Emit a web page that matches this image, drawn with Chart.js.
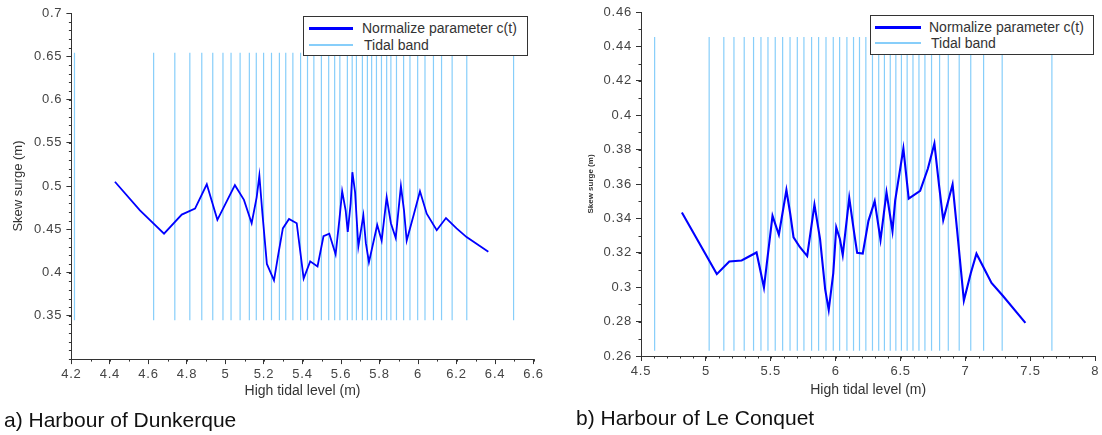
<!DOCTYPE html>
<html><head><meta charset="utf-8">
<script src="https://cdn.jsdelivr.net/npm/chart.js@4.4.1/dist/chart.umd.min.js"></script>
<style>
html,body{margin:0;padding:0;background:#fff;width:1102px;height:435px;overflow:hidden;font-family:"Liberation Sans",Arial,sans-serif;}
.wrap{position:absolute;top:0;width:551px;height:435px;}
canvas{display:block}
.legend{position:absolute;background:#fff;border:1px solid #333;box-sizing:border-box;}
.sw{position:absolute;height:0;}
.lt{position:absolute;font-size:14px;color:#333;white-space:nowrap;line-height:16px;}
.cap{position:absolute;font-size:21px;color:#111;white-space:nowrap;line-height:21px;}
</style></head>
<body>
<div class="wrap" style="left:0"><canvas id="c1" width="551" height="435"></canvas></div>
<div class="wrap" style="left:551px"><canvas id="c2" width="551" height="435"></canvas></div>

<div class="legend" style="left:303px;top:16px;width:225px;height:40px;"></div>
<div class="sw" style="left:309px;top:27px;width:44px;border-top:3px solid #0000ff;"></div>
<div class="lt" style="left:362px;top:20px;">Normalize parameter c(t)</div>
<div class="sw" style="left:309px;top:44px;width:44px;border-top:2px solid #87cefa;"></div>
<div class="lt" style="left:364px;top:37px;">Tidal band</div>

<div class="legend" style="left:870px;top:15px;width:224px;height:40px;"></div>
<div class="sw" style="left:875px;top:26px;width:46px;border-top:3px solid #0000ff;"></div>
<div class="lt" style="left:929px;top:19px;">Normalize parameter c(t)</div>
<div class="sw" style="left:875px;top:42px;width:46px;border-top:2px solid #87cefa;"></div>
<div class="lt" style="left:931px;top:35px;">Tidal band</div>

<div class="cap" style="left:4px;top:409px;">a) Harbour of Dunkerque</div>
<div class="cap" style="left:576px;top:407px;">b) Harbour of Le Conquet</div>

<script>
// ---------- Data: Harbour of Dunkerque ----------
const dunkX = [4.426,4.556,4.681,4.773,4.842,4.903,4.958,5.049,5.096,5.136,5.162,5.176,5.192,5.215,5.252,5.275,5.298,5.330,5.370,5.406,5.440,5.478,5.509,5.539,5.572,5.591,5.606,5.624,5.635,5.650,5.659,5.673,5.690,5.716,5.729,5.745,5.788,5.811,5.837,5.859,5.884,5.911,5.927,5.941,5.979,6.010,6.045,6.097,6.145,6.200,6.252,6.365];
const dunkY = [0.505,0.472,0.445,0.467,0.474,0.502,0.461,0.501,0.484,0.457,0.487,0.512,0.468,0.410,0.391,0.422,0.451,0.462,0.457,0.393,0.413,0.407,0.442,0.445,0.421,0.460,0.494,0.472,0.447,0.480,0.516,0.493,0.430,0.466,0.434,0.412,0.455,0.437,0.487,0.457,0.440,0.500,0.472,0.437,0.468,0.494,0.468,0.449,0.463,0.451,0.441,0.424];
const dunkBand = [4.216,4.627,4.737,4.815,4.877,4.934,4.987,5.029,5.076,5.124,5.160,5.198,5.239,5.280,5.313,5.350,5.390,5.426,5.459,5.498,5.536,5.567,5.594,5.633,5.658,5.680,5.711,5.737,5.759,5.784,5.810,5.837,5.859,5.888,5.925,5.958,5.998,6.036,6.080,6.122,6.177,6.253,6.496];
const dunkBandLow = 0.345, dunkBandHigh = 0.654;
const dunkXTicks = [4.2,4.4,4.6,4.8,5,5.2,5.4,5.6,5.8,6,6.2,6.4,6.6];
const dunkYTicks = [0.35,0.4,0.45,0.5,0.55,0.6,0.65,0.7];

// ---------- Data: Harbour of Le Conquet ----------
const conqX = [4.815,5.084,5.180,5.275,5.390,5.447,5.513,5.562,5.620,5.650,5.675,5.723,5.780,5.836,5.879,5.919,5.946,5.981,6.004,6.032,6.054,6.104,6.143,6.165,6.208,6.252,6.300,6.345,6.391,6.437,6.458,6.521,6.562,6.650,6.710,6.760,6.797,6.828,6.900,6.935,6.987,7.040,7.084,7.200,7.287,7.461];
const conqY = [0.3434,0.3076,0.3150,0.3155,0.3202,0.2998,0.3415,0.3305,0.3565,0.3424,0.3290,0.3234,0.3181,0.3480,0.3281,0.2986,0.2868,0.3081,0.3347,0.3280,0.3187,0.3520,0.3310,0.3200,0.3195,0.3386,0.3500,0.3275,0.3552,0.3327,0.3505,0.3806,0.3515,0.3560,0.3690,0.3835,0.3585,0.3390,0.3598,0.3330,0.2922,0.3081,0.3195,0.3025,0.2950,0.2793];
const conqBand = [4.605,5.025,5.138,5.216,5.295,5.367,5.424,5.478,5.534,5.591,5.648,5.704,5.755,5.814,5.868,5.925,5.981,6.030,6.086,6.137,6.183,6.232,6.283,6.331,6.375,6.420,6.463,6.506,6.550,6.595,6.641,6.687,6.738,6.800,6.867,6.951,7.040,7.139,7.282,7.665];
const conqBandLow = 0.263, conqBandHigh = 0.4455;
const conqXTicks = [4.5,5,5.5,6,6.5,7,7.5,8];
const conqYTicks = [0.26,0.28,0.3,0.32,0.34,0.36,0.38,0.4,0.42,0.44,0.46];

const FONT = '"Liberation Sans", Arial, sans-serif';

function pts(xs, ys){ return xs.map((x,i)=>({x:x, y:ys[i]})); }
function band(xs, lo, hi){
  const out=[];
  xs.forEach(x=>{ out.push({x:x,y:lo}); out.push({x:x,y:hi}); out.push({x:x,y:null}); });
  return out;
}
function fmt(v){ return String(Math.round(v*1000)/1000); }

// minor ticks + slightly spaced tick labels (Scilab look)
const minorTicks = {
  id:'minorTicks',
  afterLayout(chart){
    Object.values(chart.scales).forEach(s=>{
      if (s._spaced) return;
      const orig = s.drawLabels.bind(s);
      s.drawLabels = function(area){
        const ctx = s.ctx; ctx.save();
        try { ctx.letterSpacing = '0.8px'; } catch(e){}
        orig(area); ctx.restore();
      };
      s._spaced = true;
    });
  },
  afterDraw(chart, args, o){
    const {ctx, chartArea:a} = chart;
    const x = chart.scales.x, y = chart.scales.y;
    ctx.save();
    ctx.strokeStyle = '#333'; ctx.lineWidth = 1;
    ctx.beginPath();
    let n = Math.round((x.max-x.min)/o.xStep);
    for(let i=0;i<=n;i++){
      const px = Math.round(x.getPixelForValue(x.min + i*o.xStep)) + 0.5;
      ctx.moveTo(px, a.bottom); ctx.lineTo(px, a.bottom + o.len);
    }
    n = Math.round((y.max-y.min)/o.yStep);
    for(let i=0;i<=n;i++){
      const py = Math.round(y.getPixelForValue(y.min + i*o.yStep)) + 0.5;
      ctx.moveTo(a.left, py); ctx.lineTo(a.left - o.len, py);
    }
    ctx.stroke();
    ctx.restore();
  }
};

function makeChart(id, c){
  return new Chart(document.getElementById(id), {
    type:'line',
    data:{datasets:[
      {label:'Normalize parameter c(t)', data:pts(c.xs,c.ys), borderColor:'#0000ff', borderWidth:c.lw, pointRadius:0, tension:0, order:0},
      {label:'Tidal band', data:band(c.band,c.lo,c.hi), borderColor:'#87cefa', borderWidth:1.2, pointRadius:0, spanGaps:false, order:1}
    ]},
    options:{
      responsive:false, animation:false, devicePixelRatio:1,
      layout:{padding:c.pad},
      plugins:{legend:{display:false}, tooltip:{enabled:false}, minorTicks:{xStep:c.xStep, yStep:c.yStep, len:2.5}},
      scales:{
        x:{type:'linear', min:c.xmin, max:c.xmax,
          afterBuildTicks:s=>{ s.ticks = c.xTicks.map(v=>({value:v})); },
          afterFit:s=>{ s.height = c.xH; },
          ticks:{callback:fmt, color:'#444', font:{family:FONT,size:13}, padding:3, maxRotation:0, autoSkip:false},
          grid:{drawOnChartArea:false, drawTicks:true, tickLength:5, tickColor:'#333'},
          border:{display:true, color:'#333', width:1},
          title:{display:true, text:'High tidal level (m)', color:'#333', font:{family:FONT,size:14}, padding:0}
        },
        y:{type:'linear', min:c.ymin, max:c.ymax,
          afterBuildTicks:s=>{ s.ticks = c.yTicks.map(v=>({value:v})); },
          afterFit:s=>{ s.width = c.yW; },
          ticks:{callback:fmt, color:'#444', font:{family:FONT,size:13}, padding:4, autoSkip:false},
          grid:{drawOnChartArea:false, drawTicks:true, tickLength:5, tickColor:'#333'},
          border:{display:true, color:'#333', width:1},
          title:{display:true, text:'Skew surge (m)', color:'#333', font:{family:FONT,size:c.yTitleSize,weight:c.yTitleWeight}, padding:0}
        }
      }
    },
    plugins:[minorTicks]
  });
}

makeChart('c1', {xs:dunkX, ys:dunkY, band:dunkBand, lo:dunkBandLow, hi:dunkBandHigh, lw:1.8,
  xmin:4.2, xmax:6.6, ymin:0.3, ymax:0.7, xTicks:dunkXTicks, yTicks:dunkYTicks, xStep:0.1, yStep:0.01,
  pad:{left:11, top:13, right:17.4, bottom:35}, yW:60.4, xH:40.9, yTitleSize:13, yTitleWeight:'normal'});

makeChart('c2', {xs:conqX, ys:conqY, band:conqBand, lo:conqBandLow, hi:conqBandHigh, lw:2.1,
  xmin:4.5, xmax:8, ymin:0.26, ymax:0.46, xTicks:conqXTicks, yTicks:conqYTicks, xStep:0.1, yStep:0.01,
  pad:{left:35, top:12, right:3, bottom:36.6}, yW:55, xH:42.4, yTitleSize:8, yTitleWeight:'bold'});
</script>
</body></html>
